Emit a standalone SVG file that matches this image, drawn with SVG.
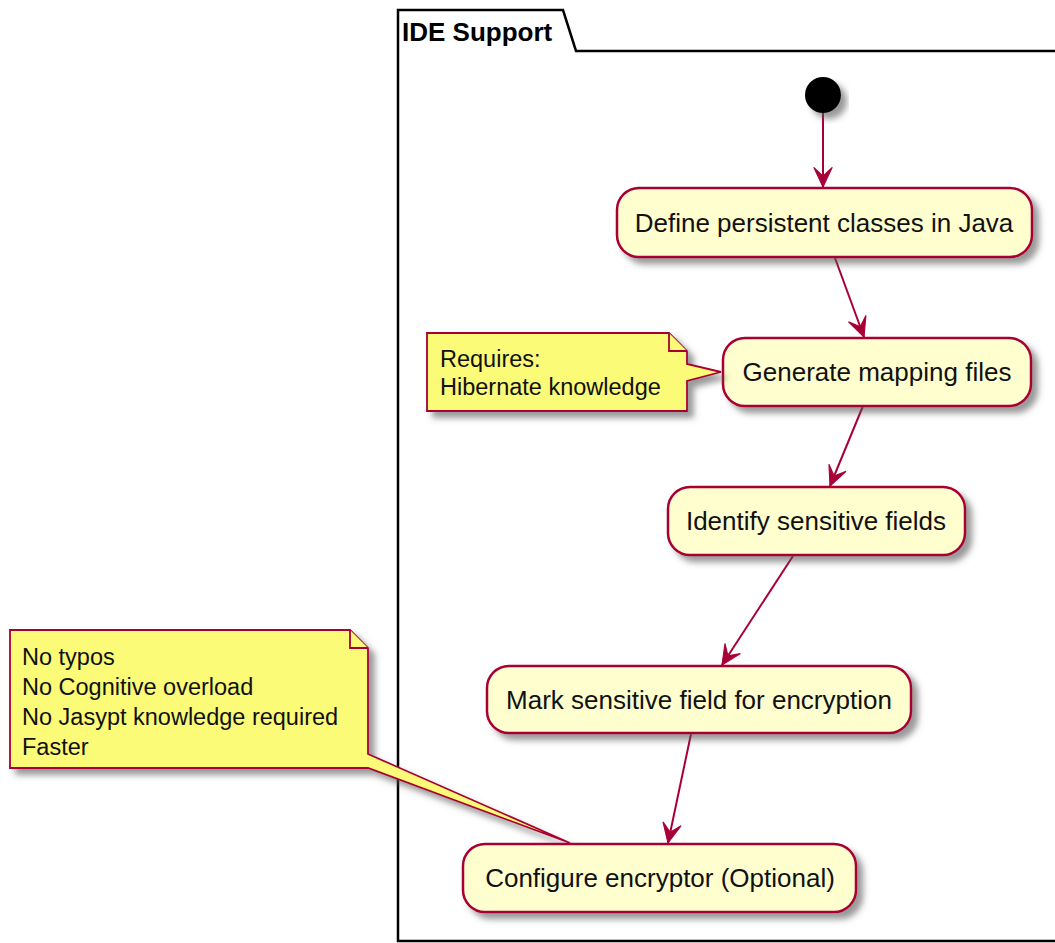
<svg xmlns="http://www.w3.org/2000/svg" width="1055" height="943" viewBox="0 0 1055 943">
  <style>
    .pkg { fill: none; stroke: #000; stroke-width: 2.5; }
    .pkg-title { font-family: "Liberation Sans", Arial, sans-serif; font-size: 26px; font-weight: bold; fill: #000; }
    .act { fill: #FEFECE; stroke: #A80036; stroke-width: 2.5; }
    .act-text { font-family: "Liberation Sans", Arial, sans-serif; font-size: 26px; fill: #111; text-anchor: middle; }
    .note { fill: #FBFB77; stroke: #A80036; stroke-width: 1.8; }
    .note-fold { fill: #FBFB77; stroke: #A80036; stroke-width: 1.8; }
    .note-text { font-family: "Liberation Sans", Arial, sans-serif; font-size: 23.5px; fill: #111; }
    .flow { fill: none; stroke: #A80036; stroke-width: 2; }
  </style>
  <defs>
    <filter id="shadow" x="-10%" y="-10%" width="130%" height="140%">
      <feGaussianBlur in="SourceAlpha" stdDeviation="3"/>
      <feOffset dx="6" dy="6" result="blur"/>
      <feFlood flood-color="#555" flood-opacity="0.6"/>
      <feComposite in2="blur" operator="in"/>
      <feMerge>
        <feMergeNode/>
        <feMergeNode in="SourceGraphic"/>
      </feMerge>
    </filter>
    <marker id="arrow" markerUnits="userSpaceOnUse" markerWidth="24" markerHeight="24" viewBox="-20 -10 22 20" refX="0" refY="0" orient="auto" overflow="visible">
      <path d="M0,0 L-18,-8.5 L-10,0 L-18,8.5 Z" fill="#A80036" stroke="#A80036" stroke-width="1"/>
    </marker>
  </defs>

  <!-- package frame -->
  <g id="pkg-ide-support">
    <path class="pkg" d="M398,51 L398,941 L1060,941 M398,51 L398,10 L563,10 L576,51 L1060,51"/>
    <text class="pkg-title" x="402" y="41">IDE Support</text>
  </g>

  <!-- flow connectors -->
  <g id="connectors">
    <line class="flow" x1="823" y1="113" x2="823" y2="187" marker-end="url(#arrow)"/>
    <line class="flow" x1="835" y1="258" x2="864" y2="337" marker-end="url(#arrow)"/>
    <line class="flow" x1="863" y1="406" x2="830" y2="486" marker-end="url(#arrow)"/>
    <line class="flow" x1="793" y1="556" x2="722" y2="665" marker-end="url(#arrow)"/>
    <line class="flow" x1="691" y1="734" x2="668" y2="843" marker-end="url(#arrow)"/>
  </g>

  <g id="start">
    <circle cx="823" cy="95" r="18" fill="#000" filter="url(#shadow)"/>
  </g>

  <g id="act-define">
    <rect class="act" x="617" y="188" width="415" height="69" rx="22" filter="url(#shadow)"/>
    <text class="act-text" x="824" y="232">Define persistent classes in Java</text>
  </g>

  <g id="act-generate">
    <rect class="act" x="723" y="338" width="308" height="68" rx="22" filter="url(#shadow)"/>
    <text class="act-text" x="877" y="381">Generate mapping files</text>
  </g>

  <g id="note-hibernate">
    <path class="note" d="M427,333 L669,333 L687,351 L687,364 L721,372 L687,381 L687,411 L427,411 Z" filter="url(#shadow)"/>
    <path class="note-fold" d="M669,333 L669,351 L687,351"/>
    <text class="note-text" x="440" y="367">Requires:</text>
    <text class="note-text" x="440" y="395">Hibernate knowledge</text>
  </g>

  <g id="act-identify">
    <rect class="act" x="668" y="487" width="297" height="68" rx="22" filter="url(#shadow)"/>
    <text class="act-text" x="816" y="530">Identify sensitive fields</text>
  </g>

  <g id="act-mark">
    <rect class="act" x="487" y="666" width="424" height="67" rx="22" filter="url(#shadow)"/>
    <text class="act-text" x="699" y="709">Mark sensitive field for encryption</text>
  </g>

  <g id="note-benefits">
    <path class="note" d="M10,630 L350,630 L368,648 L368,754 L570,843 L368,768 L10,768 Z" filter="url(#shadow)"/>
    <path class="note-fold" d="M350,630 L350,648 L368,648"/>
    <text class="note-text" x="22" y="665">No typos</text>
    <text class="note-text" x="22" y="695">No Cognitive overload</text>
    <text class="note-text" x="22" y="725">No Jasypt knowledge required</text>
    <text class="note-text" x="22" y="755">Faster</text>
  </g>

  <g id="act-configure">
    <rect class="act" x="463" y="844" width="393" height="68" rx="22" filter="url(#shadow)"/>
    <text class="act-text" x="660" y="887">Configure encryptor (Optional)</text>
  </g>
</svg>
